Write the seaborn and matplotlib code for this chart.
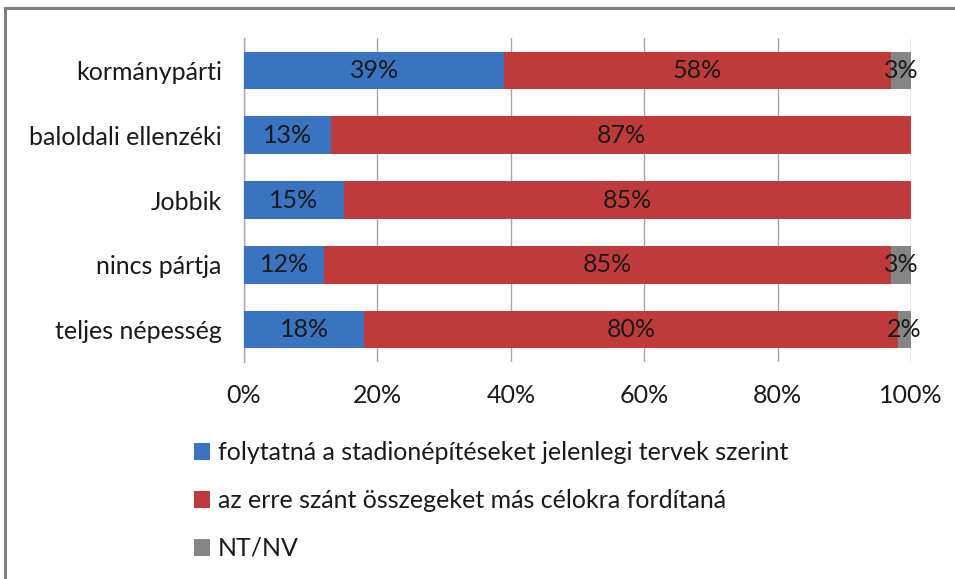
import matplotlib
matplotlib.use("Agg")
import matplotlib.pyplot as plt
import seaborn as sns
import pandas as pd
import numpy as np
from matplotlib.patches import Patch, Rectangle

categories = ["kormánypárti", "baloldali ellenzéki", "Jobbik", "nincs pártja", "teljes népesség"]
folytatna = [39, 13, 15, 12, 18]
mas_celokra = [58, 87, 85, 85, 80]
nt_nv = [3, 0, 0, 3, 2]
series_names = ["folytatná a stadionépítéseket jelenlegi tervek szerint",
                "az erre szánt összegeket más célokra fordítaná",
                "NT/NV"]
xticks = [0, 20, 40, 60, 80, 100]
xtick_labels = ["0%", "20%", "40%", "60%", "80%", "100%"]

colors = ["#3A74C0", "#BF3A3B", "#858585"]

sns.set_theme(style="white")
plt.rcParams["font.family"] = ["Lato", "DejaVu Sans"]
FS = 18

df = pd.DataFrame({"cat": categories, "a": folytatna, "b": mas_celokra, "c": nt_nv})
df["ab"] = df["a"] + df["b"]
df["abc"] = df["ab"] + df["c"]

fig = plt.figure(figsize=(9.55, 5.79), dpi=100)
ax = fig.add_axes([244/955, 1-362/579, (911-244)/955, (362-38)/579])

# frame border
fig.patches.append(Rectangle((5/955, -0.1), 1.2, 1-8/579+0.1, transform=fig.transFigure,
                             fill=False, edgecolor="#7f7f7f", linewidth=2.2))

for col, c in zip(["abc", "ab", "a"], colors[::-1]):
    sns.barplot(data=df, y="cat", x=col, orient="h", color=c, width=0.58,
                saturation=1, ax=ax, zorder=3, edgecolor="none")

# labels
for i in range(len(categories)):
    left = 0
    for vals in (folytatna, mas_celokra, nt_nv):
        v = vals[i]
        if v > 0:
            ax.text(left + v/2, i, f"{v}%", ha="center", va="center",
                    fontsize=FS, color="#1a1a1a", zorder=5)
        left += v

ax.set_xlim(0, 100)
ax.set_ylim(4.5, -0.5)
ax.set_xticks(xticks)
ax.set_xticklabels(xtick_labels, fontsize=FS, color="#1a1a1a")
ax.tick_params(axis="x", length=0, pad=16)
ax.tick_params(axis="y", length=0, pad=16, labelsize=FS, labelcolor="#1a1a1a")
ax.set_xlabel("")
ax.set_ylabel("")
ax.grid(axis="x", color="#a6a6a6", linewidth=1, zorder=0)
ax.set_axisbelow(True)
for s in ["top", "right", "bottom"]:
    ax.spines[s].set_visible(False)
ax.spines["left"].set_color("#a6a6a6")
ax.spines["left"].set_linewidth(1)

handles = [Patch(facecolor=c, edgecolor="none") for c in colors]
fig.legend(handles, series_names, loc="upper left", bbox_to_anchor=(194/955, 1-441/579),
           frameon=False, fontsize=FS, handlelength=0.65, handleheight=0.65,
           handletextpad=0.3, labelspacing=1.0, borderaxespad=0, borderpad=0,
           labelcolor="#1a1a1a")

fig.savefig("out.png", dpi=100)
